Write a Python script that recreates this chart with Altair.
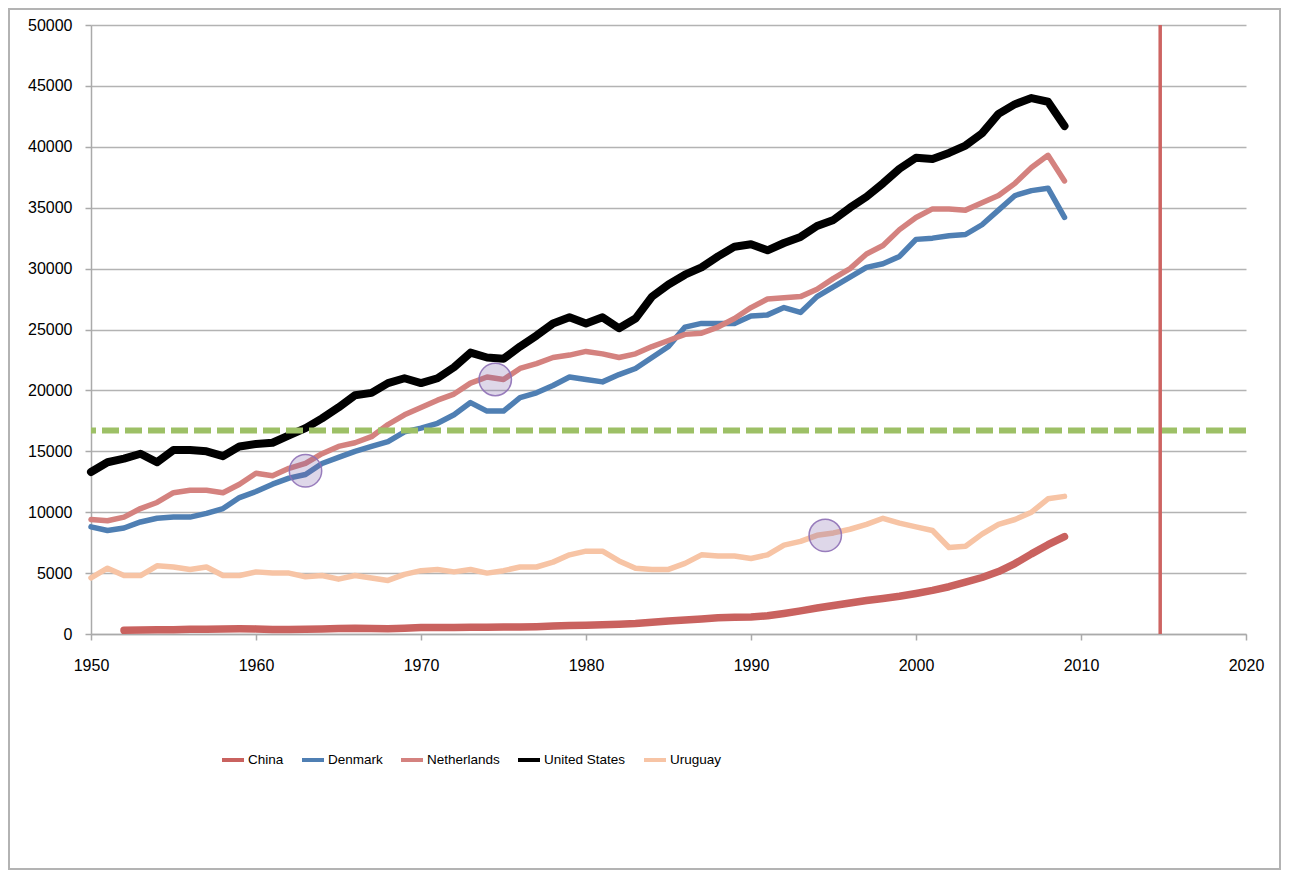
import altair as alt
import pandas as pd

years = list(range(1950, 2010))
china_years = list(range(1952, 2010))

china = [300, 330, 340, 350, 380, 390, 420, 430, 420, 360, 360, 380, 410, 450, 480, 460, 440, 480,
         530, 540, 540, 560, 560, 580, 570, 600, 650, 690, 720, 750, 800, 860, 960, 1070, 1140, 1240,
         1340, 1370, 1400, 1500, 1690, 1900, 2130, 2340, 2550, 2750, 2920, 3100, 3330, 3580, 3880,
         4250, 4640, 5130, 5780, 6580, 7330, 8000]
denmark = [8800, 8500, 8700, 9200, 9500, 9600, 9600, 9900, 10300, 11200, 11700, 12300, 12800, 13100,
           14000, 14500, 15000, 15400, 15800, 16600, 16900, 17300, 18000, 19000, 18300, 18300, 19400,
           19800, 20400, 21100, 20900, 20700, 21300, 21800, 22700, 23600, 25200, 25500, 25500, 25500,
           26100, 26200, 26800, 26400, 27700, 28500, 29300, 30100, 30400, 31000, 32400, 32500, 32700,
           32800, 33600, 34800, 36000, 36400, 36600, 34200]
netherlands = [9400, 9300, 9600, 10300, 10800, 11600, 11800, 11800, 11600, 12300, 13200, 13000, 13600,
               14000, 14800, 15400, 15700, 16200, 17200, 18000, 18600, 19200, 19700, 20600, 21100, 20900,
               21800, 22200, 22700, 22900, 23200, 23000, 22700, 23000, 23600, 24100, 24600, 24700, 25200,
               25900, 26800, 27500, 27600, 27700, 28300, 29200, 30000, 31200, 31900, 33200, 34200, 34900,
               34900, 34800, 35400, 36000, 37000, 38300, 39300, 37200]
united_states = [13300, 14100, 14400, 14800, 14100, 15100, 15100, 15000, 14600, 15400, 15600, 15700,
                 16300, 16900, 17700, 18600, 19600, 19800, 20600, 21000, 20600, 21000, 21900, 23100,
                 22700, 22600, 23600, 24500, 25500, 26000, 25500, 26000, 25100, 25900, 27700, 28700,
                 29500, 30100, 31000, 31800, 32000, 31500, 32100, 32600, 33500, 34000, 35000, 35900,
                 37000, 38200, 39100, 39000, 39500, 40100, 41100, 42700, 43500, 44000, 43700, 41700]
uruguay = [4600, 5400, 4800, 4800, 5600, 5500, 5300, 5500, 4800, 4800, 5100, 5000, 5000, 4700, 4800,
           4500, 4800, 4600, 4400, 4900, 5200, 5300, 5100, 5300, 5000, 5200, 5500, 5500, 5900, 6500,
           6800, 6800, 6000, 5400, 5300, 5300, 5800, 6500, 6400, 6400, 6200, 6500, 7300, 7600, 8100,
           8300, 8600, 9000, 9500, 9100, 8800, 8500, 7100, 7200, 8200, 9000, 9400, 10000, 11100, 11300]

series_names = ["China", "Denmark", "Netherlands", "United States", "Uruguay"]
series_colors = ["#c9625f", "#4f7fb3", "#d4827f", "#000000", "#f7c4a5"]
series_widths = [7.5, 5.5, 5.5, 8, 5.5]

threshold_value = 16700
marker_year = 2014.8
circle_years = [1963, 1974.5, 1994.5]
circle_values = [13400, 20900, 8100]

x_ticks = list(range(1950, 2021, 10))
y_ticks = list(range(0, 50001, 5000))

rows = []
for name, yrs, vals in [("China", china_years, china), ("Denmark", years, denmark),
                        ("Netherlands", years, netherlands), ("United States", years, united_states),
                        ("Uruguay", years, uruguay)]:
    for yr, v in zip(yrs, vals):
        rows.append({"year": yr, "value": v, "country": name})
df = pd.DataFrame(rows)

FONT = "Liberation Sans"
xscale = alt.Scale(domain=[1950, 2020], nice=False, zero=False)
yscale = alt.Scale(domain=[0, 50000], nice=False)

x_axis = alt.Axis(values=x_ticks, format="d", title=None, grid=False, tickSize=6,
                  labelPadding=17, labelFontSize=16, labelFont=FONT, labelColor="#000",
                  labelFlush=False, labelOverlap=False,
                  domainColor="#aaaaaa", tickColor="#aaaaaa", domainWidth=1.5, tickWidth=1.5)
y_axis = alt.Axis(values=y_ticks, format="d", title=None, grid=True, gridColor="#b3b3b3",
                  gridWidth=1.5, tickSize=6, labelPadding=13, labelFontSize=16, labelFont=FONT,
                  labelColor="#000", labelFlush=False, labelOverlap=False,
                  domainColor="#aaaaaa", tickColor="#aaaaaa",
                  domainWidth=1.5, tickWidth=1.5)

base = alt.Chart(df)

border = alt.Chart(pd.DataFrame({"a": [0]})).mark_rect(
    fill=None, stroke="#b3b3b3", strokeWidth=2
).encode(x=alt.value(-82), x2=alt.value(1189), y=alt.value(-16), y2=alt.value(844))

lines = []
for name, color, w in zip(series_names, series_colors, series_widths):
    lines.append(
        base.transform_filter(alt.datum.country == name).mark_line(
            strokeWidth=w, strokeCap="round", strokeJoin="round"
        ).encode(
            x=alt.X("year:Q", scale=xscale, axis=x_axis),
            y=alt.Y("value:Q", scale=yscale, axis=y_axis),
            color=alt.Color("country:N",
                            scale=alt.Scale(domain=series_names, range=series_colors),
                            legend=alt.Legend(title=None, orient="none", direction="horizontal",
                                              legendX=129, legendY=722, symbolType="stroke",
                                              symbolSize=484, symbolStrokeWidth=4,
                                              labelFont=FONT, gridAlign="none",
                                              labelFontSize=13.5, labelColor="#000", labelOffset=2,
                                              columnPadding=10)),
        )
    )

hline = alt.Chart(pd.DataFrame({"v": [threshold_value]})).mark_rule(
    color="#9dc066", strokeWidth=6, strokeDash=[17, 6]
).encode(y=alt.Y("v:Q", scale=yscale))

vline = alt.Chart(pd.DataFrame({"yr": [marker_year]})).mark_rule(
    color="#cd6462", strokeWidth=3.5
).encode(x=alt.X("yr:Q", scale=xscale))

circles = alt.Chart(pd.DataFrame({"year": circle_years, "value": circle_values})).mark_point(
    shape="circle", filled=True, size=1050, fill="#7d5fa8", fillOpacity=0.25,
    stroke="#8e70b6", strokeWidth=1.5, strokeOpacity=0.9
).encode(x=alt.X("year:Q", scale=xscale), y=alt.Y("value:Q", scale=yscale))

chart = alt.layer(border, *lines, hline, vline, circles).properties(
    width=1155, height=609, autosize="none",
    padding={"left": 83, "top": 17, "right": 35, "bottom": 236},
    background="white"
).configure_view(stroke=None)

chart.save("out.html", embed_options={"renderer": "svg", "actions": False})
